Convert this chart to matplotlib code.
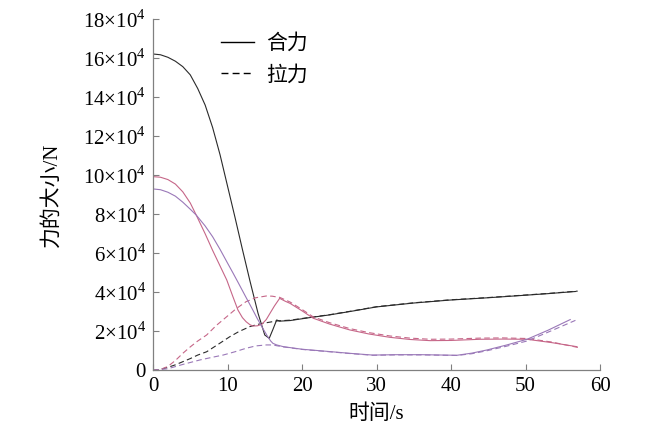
import matplotlib
matplotlib.use("Agg")
import matplotlib.pyplot as plt

plt.rcParams['font.family'] = ['Liberation Serif', 'Noto Sans CJK SC']
plt.rcParams['mathtext.fontset'] = 'custom'
plt.rcParams['mathtext.rm'] = 'Liberation Serif'

# force values, in units of 10^4 N
t_black = [0, 1, 2, 3, 4, 5, 6, 7, 8, 9, 10, 11, 12, 13, 14.1, 15.0, 15.6, 16.1, 16.6, 17,
           18.4, 21, 23.7, 27, 30, 35, 39.8, 45, 50, 53, 56, 56.7]
f_black = [16.22, 16.18, 16.05, 15.85, 15.57, 15.15, 14.45, 13.6, 12.45, 11.05, 9.45, 7.85, 6.2, 4.6,
           2.92, 1.81, 1.64, 2.1, 2.58, 2.52,
           2.55, 2.7, 2.84, 3.05, 3.25, 3.45, 3.6, 3.72, 3.85, 3.93, 4.02, 4.04]
t_black_pull = [0, 1, 2, 3, 4, 5, 6, 7.2, 8.5, 10.3, 11.5, 13, 14, 14.8, 15.7, 16.6,
                18.4, 21, 23.7, 27, 30, 35, 39.8, 45, 50, 53, 56, 57]
f_black_pull = [0, 0.05, 0.15, 0.28, 0.44, 0.6, 0.78, 0.95, 1.27, 1.72, 1.98, 2.24, 2.35, 2.41, 2.47, 2.53,
                2.57, 2.71, 2.85, 3.06, 3.26, 3.46, 3.61, 3.73, 3.86, 3.94, 4.03, 4.06]

t_pink = [0, 1, 2, 3, 4, 5, 5.8, 7, 8, 9, 9.9, 10.7, 11.4, 12, 12.5, 13, 13.4, 14, 14.6, 15.2,
          15.7, 16.3, 17, 17.7, 18.4, 20, 21.5, 23.7, 26.4, 29, 31.8, 34.5, 37.2, 40, 43.9, 47,
          50.2, 53.5, 56.9]
f_pink = [9.93, 9.9, 9.78, 9.55, 9.15, 8.58, 7.96, 7.0, 6.15, 5.35, 4.63, 3.8, 3.09, 2.7, 2.49, 2.34,
          2.27, 2.28, 2.36, 2.6, 2.92, 3.3, 3.69, 3.55, 3.43, 3.05, 2.67, 2.37, 2.07, 1.86, 1.69, 1.58,
          1.52, 1.53, 1.59, 1.6, 1.59, 1.42, 1.21]
t_pink_pull = [0, 1, 2, 3, 4, 5, 6, 7.2, 8.5, 9.9, 11.2, 12.5, 13.8, 15.2, 16.0, 16.6, 17, 17.7,
               18.4, 20, 21.5, 23.7, 26.4, 29, 31.8, 34.5, 37.2, 40, 43.9, 47, 50.2, 53.5, 57.3]
f_pink_pull = [0, 0.04, 0.2, 0.5, 0.87, 1.2, 1.5, 1.81, 2.3, 2.75, 3.17, 3.52, 3.72, 3.81, 3.8, 3.76,
               3.74, 3.62, 3.5, 3.12, 2.74, 2.44, 2.14, 1.93, 1.76, 1.65, 1.59, 1.6, 1.65, 1.66, 1.63,
               1.45, 1.15]

t_purple = [0, 1, 2, 3, 4, 5, 5.8, 7, 8, 9, 10, 10.75, 11.4, 12.4, 13.4, 14, 14.6, 15.0, 15.4,
            15.8, 16.1, 16.6, 17.5, 20, 23.7, 26.4, 29.5, 32.6, 36, 40.8, 42.8, 44.8, 47.5, 50.2,
            53, 56.0]
f_purple = [9.3, 9.26, 9.13, 8.93, 8.62, 8.26, 7.96, 7.4, 6.85, 6.2, 5.5, 4.98, 4.52, 3.8, 3.09,
            2.65, 2.24, 1.98, 1.72, 1.5, 1.38, 1.3, 1.21, 1.08, 0.96, 0.87, 0.78, 0.8, 0.8, 0.77,
            0.88, 1.04, 1.3, 1.59, 2.05, 2.6]
t_purple_pull = [0, 2, 4, 6.3, 8, 9.4, 11, 12.5, 13.8, 15.2, 16.1, 16.6, 17.5, 20, 23.7, 26.4,
                 29.5, 32.6, 36, 40.8, 42.8, 44.8, 47.5, 50.2, 53, 56.7]
f_purple_pull = [0, 0.08, 0.3, 0.53, 0.67, 0.78, 0.95, 1.13, 1.25, 1.30, 1.3, 1.26, 1.2, 1.07, 0.95,
                 0.86, 0.77, 0.79, 0.79, 0.76, 0.85, 1.0, 1.24, 1.5, 1.95, 2.56]

x_ticks = [0, 10, 20, 30, 40, 50, 60]
y_ticks = [0, 2, 4, 6, 8, 10, 12, 14, 16, 18]
y_labels = ['0'] + [f'{v}×10$^{{4}}$' for v in y_ticks[1:]]

c_black = '#2a2a2a'
c_pink = '#c66688'
c_purple = '#9a78b8'
dash = (0, (5, 3))

fig = plt.figure(figsize=(6.5, 4.38), dpi=100)
ax = fig.add_axes([0.2354, 0.1546, 0.6877, 0.8014])

ax.plot(t_black, f_black, color=c_black, lw=0.8)
ax.plot(t_black_pull, f_black_pull, color=c_black, lw=0.8, ls=dash)
ax.plot(t_pink, f_pink, color=c_pink, lw=0.8)
ax.plot(t_pink_pull, f_pink_pull, color=c_pink, lw=0.8, ls=dash)
ax.plot(t_purple, f_purple, color=c_purple, lw=0.8)
ax.plot(t_purple_pull, f_purple_pull, color=c_purple, lw=0.8, ls=dash)

# legend handles in black
h1, = ax.plot([], [], color='black', lw=1.0)
h2, = ax.plot([], [], color='black', lw=1.0, ls=dash)
ax.legend([h1, h2], ['合力', '拉力'], loc='upper left', bbox_to_anchor=(0.11, 1.01),
          frameon=False, fontsize=15, handlelength=1.6, handletextpad=0.55, labelspacing=0.55)

ax.set_xlim(0, 60)
ax.set_ylim(0, 18)
ax.set_xticks(x_ticks)
ax.set_yticks(y_ticks)
ax.set_yticklabels(y_labels)
ax.tick_params(direction='in', length=4, width=0.8, color='#808080', labelsize=15, pad=5)
for side in ['top', 'right']:
    ax.spines[side].set_visible(False)
for side in ['left', 'bottom']:
    ax.spines[side].set_color('#808080')
    ax.spines[side].set_linewidth(0.9)

ax.set_xlabel('时间/s', fontsize=15, labelpad=6)
ax.set_ylabel('力的大小/N', fontsize=15)
ax.yaxis.set_label_coords(-0.205, 0.5)

fig.savefig('out.png', dpi=100)
